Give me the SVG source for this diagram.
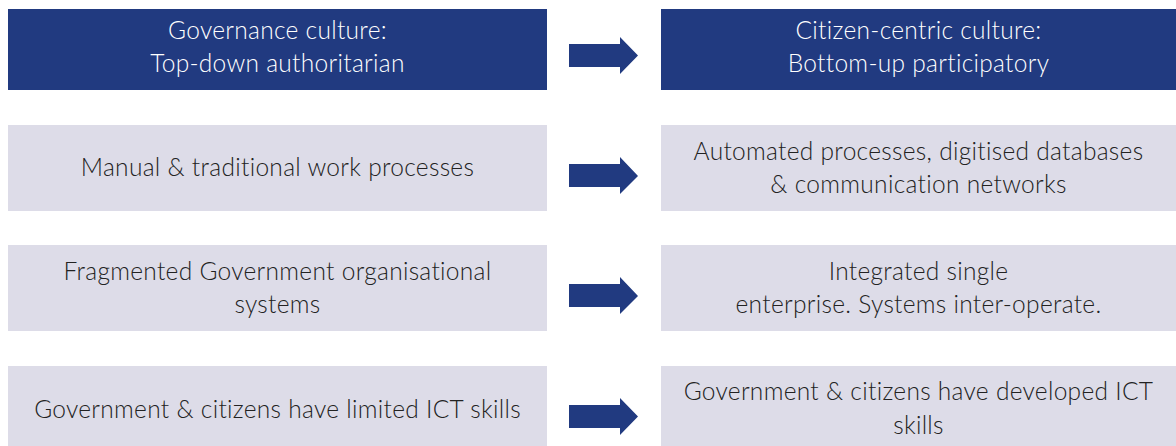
<svg xmlns="http://www.w3.org/2000/svg" width="1176" height="446" viewBox="0 0 1176 446">
<defs>
<style>
.dark{fill:#213a80}
.light{fill:#dddce8}
.t{font-family:Lato,"Liberation Sans",sans-serif;font-weight:300;font-size:24.5px;letter-spacing:0.3px;text-anchor:middle}
.w{fill:#ffffff}
.b{fill:#222222}
.arr{fill:#213a80}
</style>
</defs>
<rect width="1176" height="446" fill="#ffffff"/>
<g id="n1"><rect class="dark" x="8" y="9" width="539" height="81"/>
<text class="t w" x="277.5" y="39">Governance culture:</text>
<text class="t w" x="277.5" y="72">Top-down authoritarian</text></g>
<g id="n2"><rect class="dark" x="661" y="9" width="515" height="81"/>
<text class="t w" x="918.5" y="39">Citizen-centric culture:</text>
<text class="t w" x="918.5" y="72">Bottom-up participatory</text></g>
<g id="n3"><rect class="light" x="8" y="125" width="539" height="86"/>
<text class="t b" x="277.5" y="176">Manual &amp; traditional work processes</text></g>
<g id="n4"><rect class="light" x="661" y="125" width="515" height="86"/>
<text class="t b" x="918.5" y="160">Automated processes, digitised databases</text>
<text class="t b" x="918.5" y="193">&amp; communication networks</text></g>
<g id="n5"><rect class="light" x="8" y="245" width="539" height="86"/>
<text class="t b" x="277.5" y="280">Fragmented Government organisational</text>
<text class="t b" x="277.5" y="313">systems</text></g>
<g id="n6"><rect class="light" x="661" y="245" width="515" height="86"/>
<text class="t b" x="918.5" y="280">Integrated single</text>
<text class="t b" x="918.5" y="313">enterprise. Systems inter-operate.</text></g>
<g id="n7"><rect class="light" x="8" y="366" width="539" height="80"/>
<text class="t b" x="277.5" y="418">Government &amp; citizens have limited ICT skills</text></g>
<g id="n8"><rect class="light" x="661" y="366" width="515" height="80"/>
<text class="t b" x="918.5" y="400">Government &amp; citizens have developed ICT</text>
<text class="t b" x="918.5" y="434">skills</text></g>
<g id="connectors">
<polygon class="arr" points="569,44 620,44 620,37 638,55.5 620,74 620,67 569,67"/>
<polygon class="arr" points="569,164 620,164 620,157 638,176 620,194 620,187 569,187"/>
<polygon class="arr" points="569,284 620,284 620,277 638,296 620,314 620,307 569,307"/>
<polygon class="arr" points="569,405 620,405 620,398 638,416.5 620,435 620,428 569,428"/>
</g>
</svg>
